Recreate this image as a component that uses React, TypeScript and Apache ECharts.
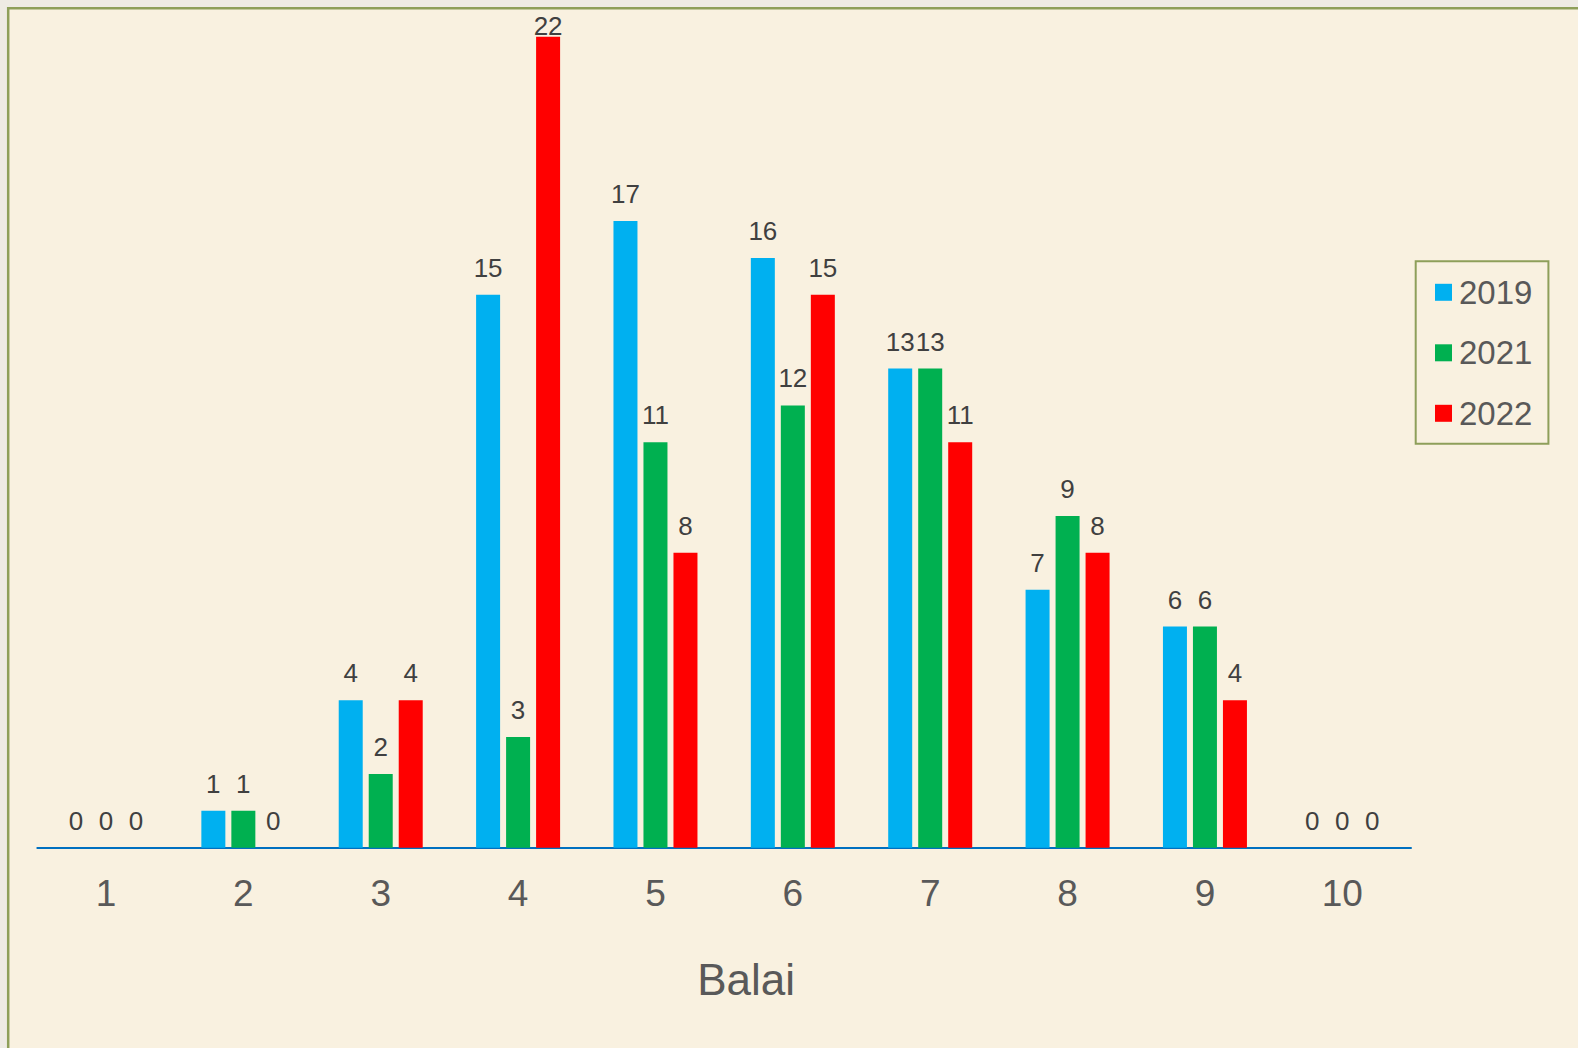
import React, { useEffect, useRef } from "react";
import * as echarts from "echarts";

const categories = ["1", "2", "3", "4", "5", "6", "7", "8", "9", "10"];
const seriesNames = ["2019", "2021", "2022"];
const values2019 = [0, 1, 4, 15, 17, 16, 13, 7, 6, 0];
const values2021 = [0, 1, 2, 3, 11, 12, 13, 9, 6, 0];
const values2022 = [0, 0, 4, 22, 8, 15, 11, 8, 4, 0];
const seriesColors = ["#00B0F0", "#00B050", "#FF0000"];

const FONT = "'Liberation Sans', Arial, sans-serif";

export default function App() {
  const ref = useRef<HTMLDivElement>(null);

  useEffect(() => {
    if (!ref.current) return;
    const chart = echarts.init(ref.current, undefined, { renderer: "svg" });
    const allValues = [values2019, values2021, values2022];
    const yMax = Math.max(...allValues.flat());

    const series = allValues.map((vals, si) => ({
      name: seriesNames[si],
      type: "bar",
      barWidth: 24,
      barGap: "25%",
      itemStyle: { color: seriesColors[si] },
      label: {
        show: true,
        position: "top",
        distance: 14,
        color: "#404040",
        fontSize: 26,
        fontFamily: FONT,
      },
      data: vals.map((v) =>
        v === yMax ? { value: v, label: { distance: -2 } } : v
      ),
    }));

    chart.setOption({
      animation: false,
      backgroundColor: "#EEEBE4",
      graphic: [
        {
          type: "rect",
          silent: true,
          z: -10,
          shape: { x: 8.2, y: 8.2, width: 1700, height: 1200 },
          style: { fill: "#F9F1E0", stroke: "#8E9F5A", lineWidth: 2.5 },
        },
      ],
      grid: { left: 37.3, right: 167, top: 36.8, bottom: 200.3 },
      xAxis: {
        type: "category",
        data: categories,
        axisLine: { show: true, lineStyle: { color: "#0070C0", width: 2 } },
        axisTick: { show: false },
        axisLabel: {
          color: "#595959",
          fontSize: 37,
          fontFamily: FONT,
          margin: 27,
        },
        name: "Balai",
        nameLocation: "middle",
        nameGap: 110,
        nameTextStyle: {
          color: "#595959",
          fontSize: 44,
          fontFamily: FONT,
          padding: [0, 0, 0, 44],
        },
      },
      yAxis: {
        type: "value",
        min: 0,
        max: yMax,
        show: false,
        splitLine: { show: false },
      },
      legend: {
        orient: "vertical",
        left: 1415.7,
        top: 261.3,
        padding: [14.5, 16, 14, 19.3],
        itemWidth: 17,
        itemHeight: 17,
        itemGap: 27.5,
        icon: "rect",
        borderColor: "#8E9F5A",
        borderWidth: 2,
        textStyle: {
          color: "#595959",
          fontSize: 33,
          fontFamily: FONT,
          padding: [0, 0, 0, 2],
        },
        data: seriesNames,
      },
      series,
    });
    return () => chart.dispose();
  }, []);

  return (
    <div
      ref={ref}
      style={{
        position: "fixed",
        left: 0,
        top: 0,
        width: 1578,
        height: 1048,
      }}
    />
  );
}
